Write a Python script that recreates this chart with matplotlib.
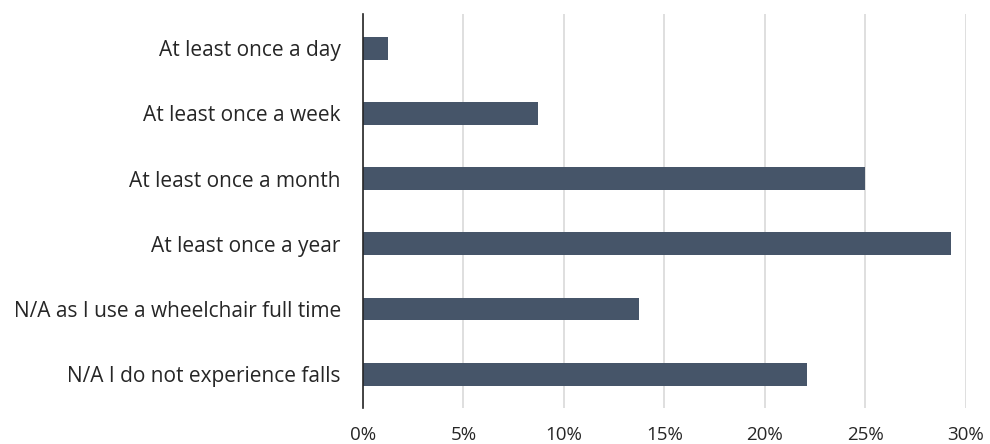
import matplotlib
matplotlib.use("Agg")
import matplotlib.pyplot as plt
from matplotlib.ticker import FuncFormatter, MultipleLocator

# survey answers: how often do you fall
categories = [
    "At least once a day",
    "At least once a week",
    "At least once a month",
    "At least once a year",
    "N/A as I use a wheelchair full time",
    "N/A I do not experience falls",
]
shares = [1.25, 8.7, 25.0, 29.3, 13.75, 22.1]

plt.rcParams['font.family'] = ['Open Sans', 'DejaVu Sans']

fig = plt.figure(figsize=(9.9, 4.44), dpi=100)
ax = fig.add_axes([0.3667, 0.081, 0.6086, 0.887])

pos = list(range(len(categories)))
ax.barh(pos, shares, height=0.35, color='#465569', zorder=3)

ax.set_xlim(0, 30)
ax.set_ylim(len(categories) - 0.48, -0.52)
ax.xaxis.set_major_locator(MultipleLocator(5))
ax.xaxis.set_major_formatter(FuncFormatter(lambda v, p: "%d%%" % v))
ax.set_yticks(pos)
ax.set_yticklabels(categories)

ax.grid(axis='x', color='#d9d9d9', linewidth=1.2, zorder=0)
for s in ['top', 'right', 'bottom']:
    ax.spines[s].set_visible(False)
ax.spines['left'].set_color('#262626')
ax.spines['left'].set_linewidth(1.2)
ax.spines['left'].set_zorder(4)

ax.tick_params(axis='both', length=0, colors='#262626')
ax.tick_params(axis='y', pad=16, labelsize=15)
ax.tick_params(axis='x', pad=13, labelsize=13.5)

fig.savefig("out.png", dpi=100)
